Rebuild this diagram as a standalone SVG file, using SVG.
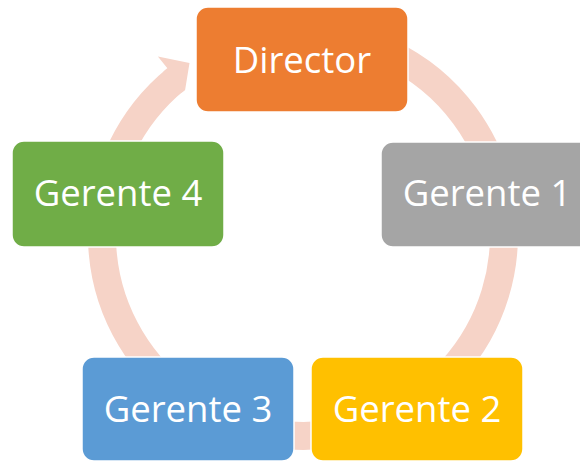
<svg xmlns="http://www.w3.org/2000/svg" width="580" height="461" viewBox="0 0 580 461">
  <style>
    .box { stroke: #ffffff; stroke-width: 1.5; }
    .lbl { font-family: "Open Sans", "Liberation Sans", sans-serif; font-size: 36.5px; fill: #ffffff; text-anchor: middle; }
    .ring { fill: none; stroke: #F6D3C7; stroke-width: 28; }
  </style>
  <rect width="580" height="461" fill="#ffffff"/>
  <g id="connectors">
    <path class="ring" d="M 303 34 A 201 201 0 1 1 176.2 79.0"/>
    <polygon fill="#F6D3C7" points="157.9,56.5 189.5,63 185.1,89.9 181.6,92.8 163.4,71.5 167.4,68.2"/>
  </g>
  <g id="director">
    <rect class="box" x="196" y="7" width="212" height="105" rx="12" fill="#ED7D31"/>
    <text class="lbl" x="302" y="72.5">Director</text>
  </g>
  <g id="gerente1">
    <rect class="box" x="381" y="142" width="212" height="105" rx="12" fill="#A5A5A5"/>
    <text class="lbl" x="487" y="206">Gerente 1</text>
  </g>
  <g id="gerente2">
    <rect class="box" x="311" y="357" width="212" height="104" rx="12" fill="#FFC000"/>
    <text class="lbl" x="417" y="422">Gerente 2</text>
  </g>
  <g id="gerente3">
    <rect class="box" x="82" y="357" width="212" height="104" rx="12" fill="#5B9BD5"/>
    <text class="lbl" x="188" y="422">Gerente 3</text>
  </g>
  <g id="gerente4">
    <rect class="box" x="12" y="141" width="212" height="106" rx="12" fill="#70AD47"/>
    <text class="lbl" x="118" y="206">Gerente 4</text>
  </g>
</svg>
